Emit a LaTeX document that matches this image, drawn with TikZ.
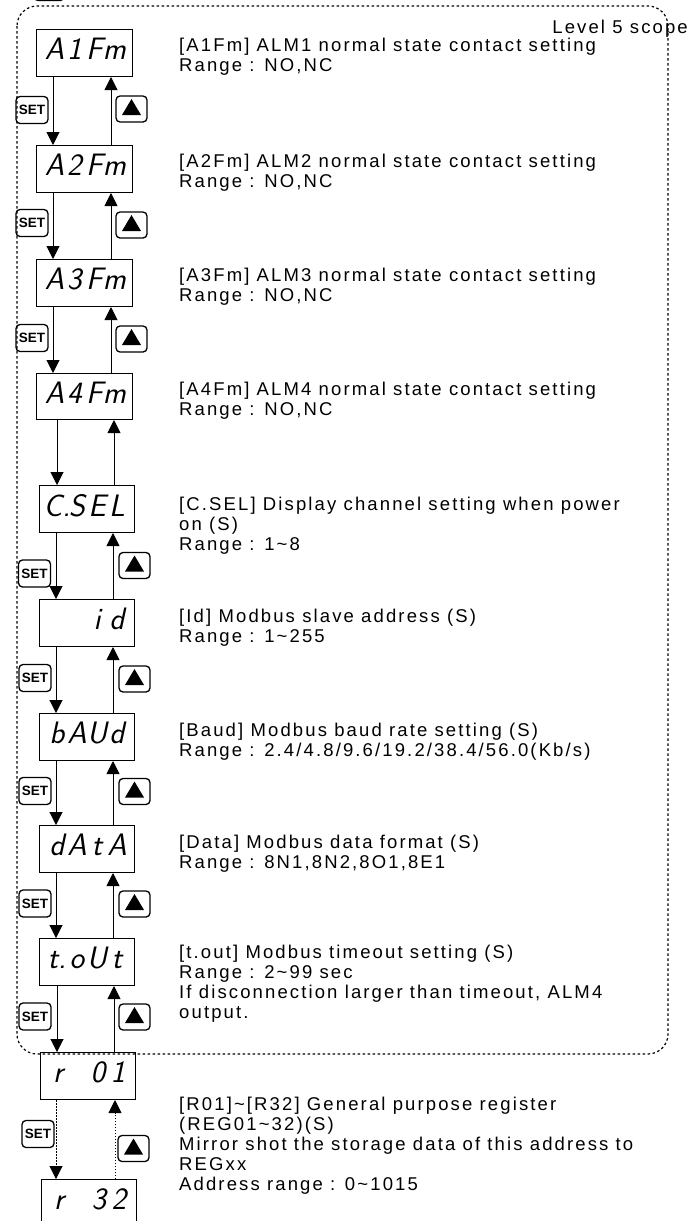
\documentclass[tikz,border=0pt]{standalone}
\usepackage{fontspec}
\setmainfont{Liberation Sans}[LetterSpace=11.5]
\newfontfamily\iconfont{Liberation Sans}
\usetikzlibrary{arrows.meta}
\newcommand\segcells[4]{\makebox[20pt]{#1}\makebox[20pt]{#2}\makebox[20pt]{#3}\makebox[20pt]{#4}}
\newcommand\segstrut{\rule[-8pt]{0pt}{26pt}}
\newcommand\lblstrut{\rule{0pt}{14.5pt}}
\newcommand\pairarrows[5]{%
  \draw[#5] ([xshift=#3]#2.north west |- #1.south) -- ([xshift=#3]#2.north west);
  \draw[#5] ([xshift=-#4]#2.north east) -- ([xshift=-#4]#2.north east |- #1.south);}
\newcommand\upicon[2]{%
  \node[upbox] (#1) at (#2) {};
  \fill (#1.center) +(-9.5,6) -- +(9.5,6) -- +(0,-10) -- cycle;}
\begin{document}
\begin{tikzpicture}[x=1pt,y=-1pt,
  disp/.style={draw, line width=1pt, minimum width=95pt, minimum height=47pt, inner sep=0pt, anchor=north west,
    font=\fontsize{31}{31}\sffamily\slshape},
  lbl/.style={anchor=north west, align=left, inner sep=0pt, font=\fontsize{18.5}{20}\selectfont},
  arr/.style={line width=1pt, -{Triangle[width=13pt,length=13pt]}},
  darr/.style={arr, dash pattern=on 1.5pt off 1.5pt},
  setbox/.style={draw, line width=1.3pt, rounded corners=4pt, minimum width=32pt, minimum height=27pt, inner sep=0pt,
    font=\iconfont\fontsize{13.5}{13.5}\selectfont\bfseries},
  upbox/.style={draw, line width=1.3pt, rounded corners=4pt, minimum width=31pt, minimum height=26pt, inner sep=0pt},
  lvlborder/.style={line width=1.2pt, dash pattern=on 2.5pt off 2.5pt, rounded corners=20pt}
]
\useasboundingbox (0,0) rectangle (691,1221);

% level border
\draw[lvlborder] (17,6) rectangle (668,1054);
\node[upbox, anchor=south west] (topicon) at (33,1) {};
\node[anchor=base east, inner sep=0pt, font=\fontsize{18.5}{20}\selectfont] (lvl) at (688,33) {Level 5 scope};

% displays
\node[disp, minimum width=96pt] (A1) at (36,29) {\segstrut\segcells{A}{1}{F}{m}};
\node[disp, minimum width=96pt] (A2) at (36,145) {\segstrut\segcells{A}{2}{F}{m}};
\node[disp, minimum width=96pt] (A3) at (36,259) {\segstrut\segcells{A}{3}{F}{m}};
\node[disp, minimum width=96pt, minimum height=46pt] (A4) at (36,373) {\segstrut\segcells{A}{4}{F}{m}};
\node[disp] (CS) at (39,485) {\segstrut\segcells{C.}{S}{E}{L}};
\node[disp] (ID) at (39,599) {\segstrut\segcells{}{}{i}{d}};
\node[disp] (BA) at (39,713) {\segstrut\segcells{b}{A}{U}{d}};
\node[disp] (DA) at (39,825) {\segstrut\segcells{d}{A}{t}{A}};
\node[disp] (TO) at (39,938) {\segstrut\segcells{t.}{o}{U}{t}};
\node[disp] (R1) at (40,1052) {\segstrut\segcells{r}{}{0}{1}};
\node[disp] (R32) at (41,1179) {\segstrut\segcells{r}{}{3}{2}};

% arrows between displays
\pairarrows{A1}{A2}{17pt}{22pt}{arr}
\pairarrows{A2}{A3}{17pt}{22pt}{arr}
\pairarrows{A3}{A4}{17pt}{22pt}{arr}
\pairarrows{A4}{CS}{18pt}{21pt}{arr}
\pairarrows{CS}{ID}{17pt}{22pt}{arr}
\pairarrows{ID}{BA}{17pt}{22pt}{arr}
\pairarrows{BA}{DA}{17pt}{22pt}{arr}
\pairarrows{DA}{TO}{17pt}{22pt}{arr}
\pairarrows{TO}{R1}{17pt}{22pt}{arr}
\pairarrows{R1}{R32}{15pt}{22pt}{darr}

% SET and up icons
\node[setbox] (S1) at (32,110) {SET};   \upicon{U1}{131.5,109}
\node[setbox] (S2) at (32,223) {SET};   \upicon{U2}{131.5,225}
\node[setbox] (S3) at (32,338) {SET};   \upicon{U3}{131.5,339}
\node[setbox] (S4) at (34.5,573.5) {SET}; \upicon{U4}{134.5,565.5}
\node[setbox] (S5) at (35,678) {SET};   \upicon{U5}{134.5,679}
\node[setbox] (S6) at (35,791) {SET};   \upicon{U6}{134.5,791.5}
\node[setbox] (S7) at (35,903.5) {SET}; \upicon{U7}{134.5,904}
\node[setbox] (S8) at (35,1016.5) {SET}; \upicon{U8}{134.5,1017}
\node[setbox] (S9) at (38,1134) {SET};  \upicon{U9}{133.5,1148.5}

% labels
\node[lbl] (L1) at (179,36.5) {\lblstrut[A1Fm] ALM1 normal state contact setting\\Range : NO,NC};
\node[lbl] (L2) at (179,152.5) {\lblstrut[A2Fm] ALM2 normal state contact setting\\Range : NO,NC};
\node[lbl] (L3) at (179,266.5) {\lblstrut[A3Fm] ALM3 normal state contact setting\\Range : NO,NC};
\node[lbl] (L4) at (179,380.5) {\lblstrut[A4Fm] ALM4 normal state contact setting\\Range : NO,NC};
\node[lbl] (L5) at (179,495.5) {\lblstrut[C.SEL] Display channel setting when power\\on (S)\\Range : 1\textasciitilde 8};
\node[lbl] (L6) at (179,607.5) {\lblstrut[Id] Modbus slave address (S)\\Range : 1\textasciitilde 255};
\node[lbl] (L7) at (179,721.5) {\lblstrut[Baud] Modbus baud rate setting (S)\\Range : 2.4/4.8/9.6/19.2/38.4/56.0(Kb/s)};
\node[lbl] (L8) at (179,833.5) {\lblstrut[Data] Modbus data format (S)\\Range : 8N1,8N2,8O1,8E1};
\node[lbl] (L9) at (179,943.5) {\lblstrut[t.out] Modbus timeout setting (S)\\Range : 2\textasciitilde 99 sec\\If disconnection larger than timeout, ALM4\\output.};
\node[lbl] (L10) at (179,1095.5) {\lblstrut[R01]\textasciitilde[R32] General purpose register\\(REG01\textasciitilde 32)(S)\\Mirror shot the storage data of this address to\\REGxx\\Address range : 0\textasciitilde 1015};
\end{tikzpicture}
\end{document}
